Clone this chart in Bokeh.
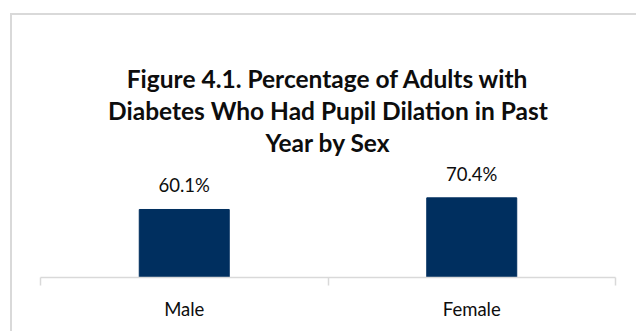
from bokeh.plotting import figure
from bokeh.models import (Range1d, LinearAxis, FixedTicker, ColumnDataSource,
                          LabelSet, Label)
from bokeh.core.properties import value
from bokeh.embed import file_html
from bokeh.resources import INLINE

# ---- data ----
categories = ["Male", "Female"]
values = [60.1, 70.4]
value_labels = ["60.1%", "70.4%"]
title_lines = ["Figure 4.1. Percentage of Adults with",
               "Diabetes Who Had Pupil Dilation in Past",
               "Year by Sex"]

# ---- geometry (page pixels) ----
AXIS_PAGE_Y = 277.0
TOP_PAGE_Y = 15.0
PX_PER_UNIT = 1.1315

def page_to_data(py):
    return (AXIS_PAGE_Y - py) / PX_PER_UNIT

x_pos = [i + 0.5 for i in range(len(categories))]
boundaries = [float(i) for i in range(len(categories) + 1)]

src = ColumnDataSource(dict(x=x_pos, top=values, label=value_labels, cat=categories))

p = figure(width=626, height=318, output_backend="svg", toolbar_location=None,
           x_axis_type=None, y_axis_type=None,
           x_range=Range1d(0, len(categories)),
           y_range=Range1d(0, page_to_data(TOP_PAGE_Y)),
           min_border_left=28, min_border_right=23, min_border_top=0,
           min_border_bottom=56)
p.styles = {"margin-left": "10px", "margin-top": "13px",
            "border-left": "2px solid #d9d9d9", "border-top": "2px solid #d9d9d9"}
p.outline_line_color = None
p.grid.visible = False
p.background_fill_color = "white"
p.border_fill_color = "white"

p.vbar(x="x", top="top", bottom=0, width=0.313, source=src,
       fill_color="#002F5F", line_color="#002F5F")

labels = LabelSet(x="x", y="top", text="label", source=src, y_offset=24,
                  text_align="center", text_baseline="middle",
                  text_font=value("Lato"), text_font_size=value("18.5px"),
                  text_color="#0d0d0d")
p.add_layout(labels)

xaxis = LinearAxis(ticker=FixedTicker(ticks=x_pos, minor_ticks=boundaries))
xaxis.major_label_overrides = {x: c for x, c in zip(x_pos, categories)}
xaxis.axis_line_color = "#d9d9d9"
xaxis.axis_line_width = 1.5
xaxis.major_tick_line_color = None
xaxis.major_tick_out = 0
xaxis.major_tick_in = 0
xaxis.minor_tick_line_color = "#d9d9d9"
xaxis.minor_tick_line_width = 1.5
xaxis.minor_tick_out = 8
xaxis.minor_tick_in = 0
xaxis.major_label_standoff = 12
xaxis.major_label_text_font = "Lato"
xaxis.major_label_text_font_size = "18.5px"
xaxis.major_label_text_color = "#0d0d0d"
p.add_layout(xaxis, "below")

title_page_y = [78, 110, 142]
for line, py in zip(title_lines, title_page_y):
    p.add_layout(Label(x=len(categories) / 2, y=page_to_data(py), text=line,
                       text_align="center", text_baseline="middle",
                       text_font="Lato", text_font_style="bold",
                       text_font_size="24.5px", text_color="#0d0d0d"))

open("out.html", "w").write(file_html(p, INLINE))
